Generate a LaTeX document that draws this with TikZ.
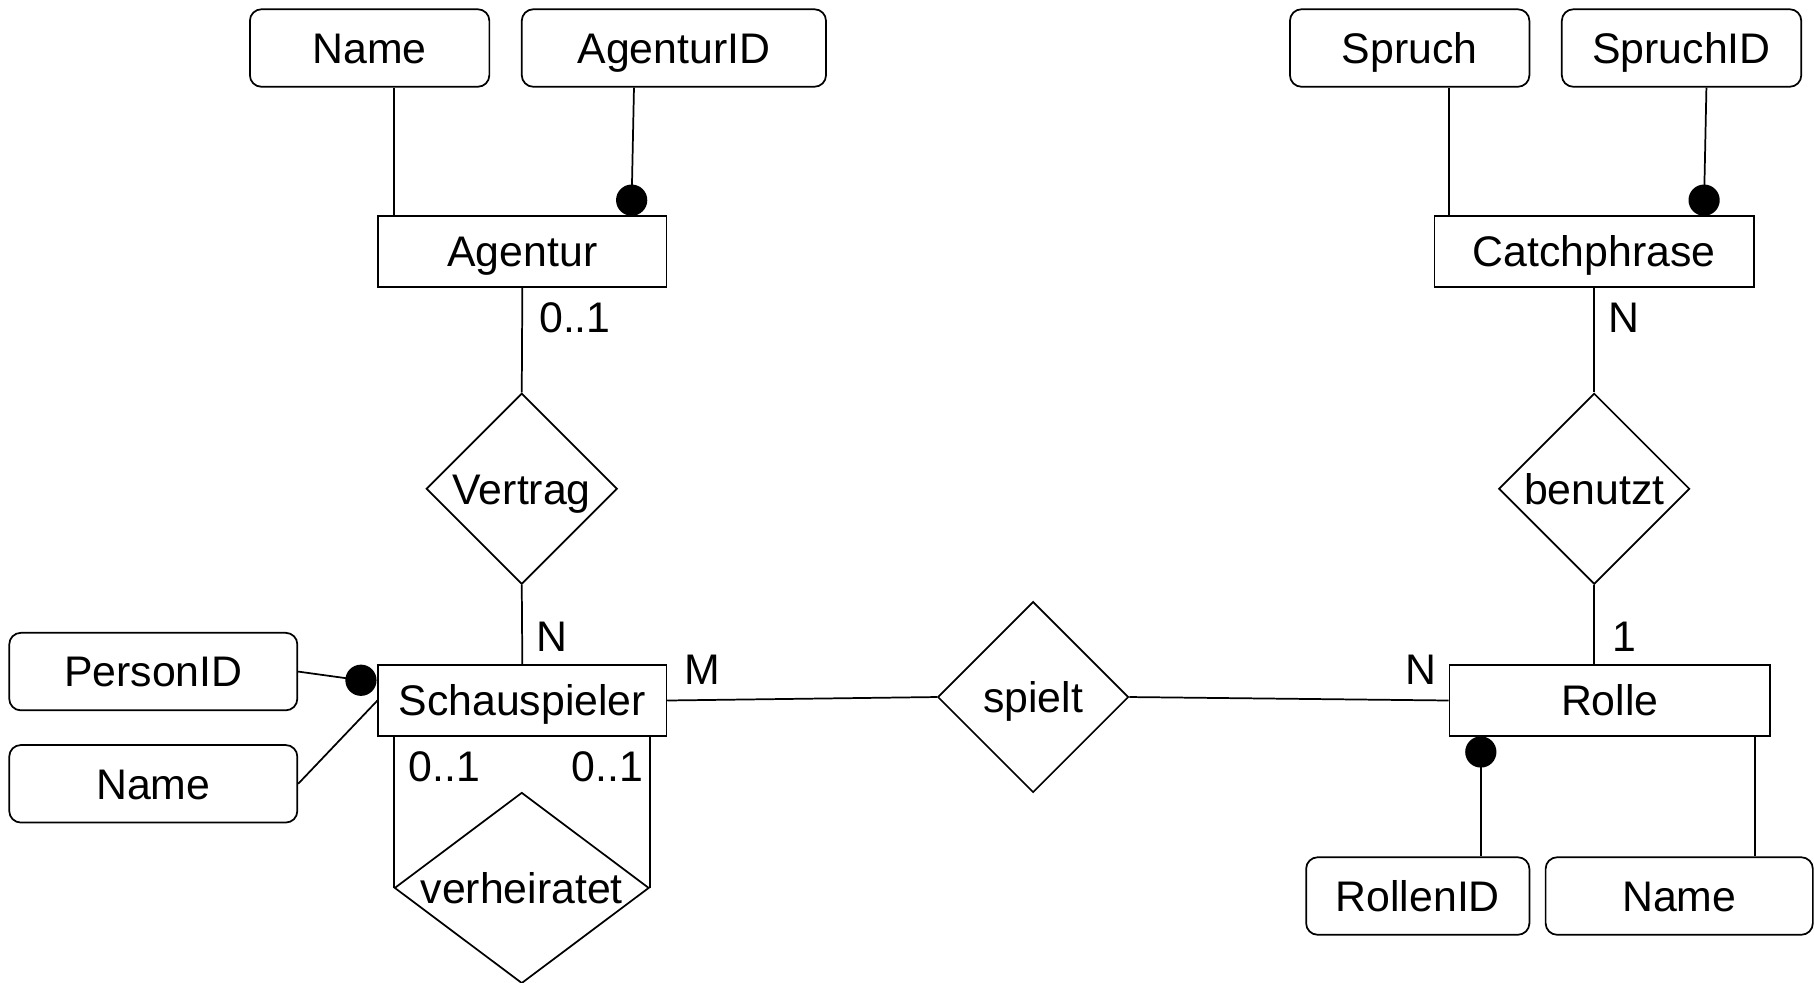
\documentclass[tikz,border=0pt]{standalone}
\usepackage{fontspec}
\setmainfont{Liberation Sans}
\usetikzlibrary{shapes.geometric}
\begin{document}
\begin{tikzpicture}[x=1pt,y=-1pt,line width=1.5pt,
  txt/.style={font=\fontsize{37}{44}\selectfont, text height=26.5pt, text depth=0pt},
  attr/.style={txt, draw, rounded corners=10pt, minimum height=67pt, inner sep=0pt},
  ent/.style={txt, draw, minimum height=61pt, inner sep=0pt},
  rel/.style={txt, draw, diamond, minimum width=165pt, minimum height=165pt, inner sep=0pt},
  keydot/.style={circle, fill=black, draw=none, inner sep=0pt, minimum size=27pt},
  card/.style={txt, inner sep=0pt}]
\useasboundingbox (0,0) rectangle (1568,849);
% attributes
\node[attr, minimum width=207pt] (agname) at (319.5,41.5) {Name};
\node[attr, minimum width=263pt] (agid) at (582.5,41.5) {AgenturID};
\node[attr, minimum width=207pt] (spruch) at (1218.5,41.5) {Spruch};
\node[attr, minimum width=207pt] (spruchid) at (1453.5,41.5) {SpruchID};
\node[attr, minimum width=249pt] (personid) at (132.5,580.5) {PersonID};
\node[attr, minimum width=249pt] (sname) at (132.5,677.5) {Name};
\node[attr, minimum width=193pt] (rollenid) at (1225.5,774.5) {RollenID};
\node[attr, minimum width=231pt] (rname) at (1451.5,774.5) {Name};
% entities
\node[ent, minimum width=249pt] (agentur) at (451.5,217.5) {Agentur};
\node[ent, minimum width=276pt] (catch) at (1378,217.5) {Catchphrase};
\node[ent, minimum width=249pt] (schau) at (451.5,605.5) {Schauspieler};
\node[ent, minimum width=277pt] (rolle) at (1391.5,605.5) {Rolle};
% relationships
\node[rel] (vertrag) at (451,422.5) {Vertrag};
\node[rel] (benutzt) at (1378,422.5) {benutzt};
\node[rel] (spielt) at (893,602.5) {spielt};
\node[rel, minimum width=220pt] (verh) at (451,767.5) {};
\node[txt, inner sep=0pt] (verhtext) at (verh.center) {verheiratet};
% key dots
\node[keydot] (agkey) at (546,173) {};
\node[keydot] (spkey) at (1473,173) {};
\node[keydot] (pkey) at (312,588) {};
\node[keydot] (rkey) at (1280,650) {};
% attribute connectors
\draw ([xshift=14pt]agentur.north west) -- ([xshift=14pt]agentur.north west |- agname.south);
\draw (agkey.center) -- ([xshift=-34.5pt]agid.south);
\draw ([xshift=13pt]catch.north west) -- ([xshift=13pt]catch.north west |- spruch.south);
\draw (spkey.center) -- ([xshift=21.5pt]spruchid.south);
\draw (pkey.center) -- (personid.east);
\draw (schau.west) -- (sname.east);
\draw (rkey.center) -- (rkey.center |- rollenid.north);
\draw ([xshift=-14pt]rolle.south east) -- ([xshift=-14pt]rolle.south east |- rname.north);
% relationship connectors
\draw (agentur.south) -- (vertrag.north);
\draw (vertrag.south) -- (schau.north);
\draw (catch.south) -- (benutzt.north);
\draw (benutzt.south) -- (rolle.north -| benutzt.south);
\draw (schau.east) -- (spielt.west);
\draw (spielt.east) -- (rolle.west);
\draw (verh.west) -- (verh.west |- schau.south);
\draw (verh.east) -- (verh.east |- schau.south);
% cardinalities
\node[card] (c1) at (497,274) {0..1};
\node[card] (c2) at (477,550) {N};
\node[card] (c3) at (607,578) {M};
\node[card] (c4) at (1228,578) {N};
\node[card] (c5) at (1404,274) {N};
\node[card] (c6) at (1404,550) {1};
\node[card] (c7) at (384,662) {0..1};
\node[card] (c8) at (525,662) {0..1};
\end{tikzpicture}
\end{document}
